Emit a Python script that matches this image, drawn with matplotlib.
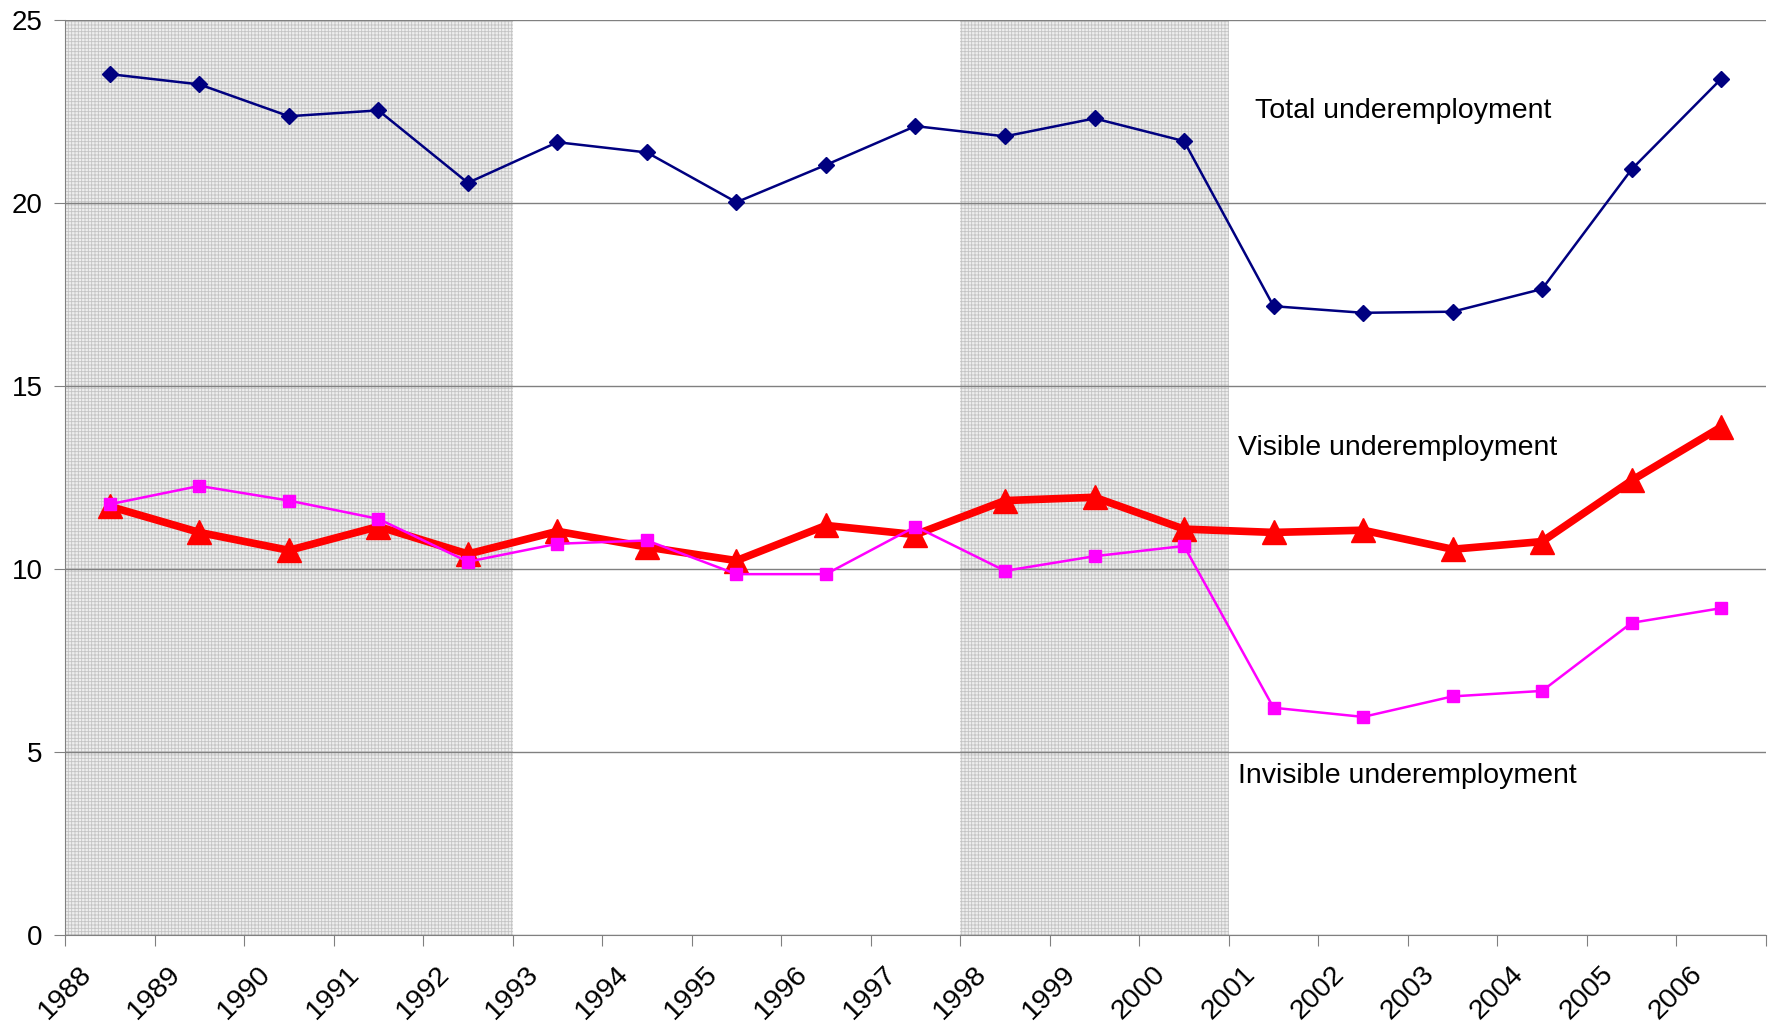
import matplotlib
matplotlib.use("Agg")
import numpy as np
from matplotlib import pyplot as plt
from matplotlib import transforms

# data
years = [1988, 1989, 1990, 1991, 1992, 1993, 1994, 1995, 1996, 1997,
         1998, 1999, 2000, 2001, 2002, 2003, 2004, 2005, 2006]
total = [23.52, 23.24, 22.37, 22.53, 20.55, 21.66, 21.38, 20.02, 21.04, 22.10,
         21.82, 22.31, 21.69, 17.18, 17.00, 17.03, 17.65, 20.92, 23.39]
visible = [11.71, 11.00, 10.51, 11.16, 10.41, 11.03, 10.60, 10.23, 11.19, 10.94,
           11.87, 11.96, 11.09, 11.00, 11.06, 10.54, 10.75, 12.42, 13.88]
invisible = [11.77, 12.27, 11.87, 11.37, 10.20, 10.69, 10.78, 9.86, 9.86, 11.16,
             9.95, 10.35, 10.63, 6.21, 5.96, 6.52, 6.67, 8.53, 8.93]
shaded = [(1988, 1993), (1998, 2001)]

plt.rcParams['font.family'] = ['Liberation Sans', 'DejaVu Sans']
plt.rcParams['hatch.linewidth'] = 0.6

fig = plt.figure(figsize=(17.73, 10.29), dpi=100)
ax = fig.add_axes([0.0367, 0.0913, 0.9593, 0.8893])

x = np.arange(len(years)) + 0.5

for a, b in shaded:
    ax.axvspan(years.index(a), years.index(b) if b in years else len(years),
               facecolor='#eeeeee', edgecolor='#c4c4c4', hatch='+++++',
               linewidth=0, zorder=1)

ax.plot(x, total, color='#000080', lw=1.8, marker='D', ms=8.5, zorder=3)
ax.plot(x, visible, color='#ff0000', lw=5.5, marker='^', ms=17, zorder=4)
ax.plot(x, invisible, color='#ff00ff', lw=1.8, marker='s', ms=9, zorder=5)

ax.text(13.29, 22.52, 'Total underemployment', fontsize=20.5, va='center')
ax.text(13.10, 13.31, 'Visible underemployment', fontsize=20.5, va='center')
ax.text(13.10, 4.35, 'Invisible underemployment', fontsize=20.5, va='center')

ax.set_xlim(0, len(years))
ax.set_ylim(0, 25)
ax.set_yticks([0, 5, 10, 15, 20, 25])
ax.set_xticks(np.arange(len(years) + 1))
ax.set_xticklabels([str(y) for y in years] + [''], rotation=45, ha='center')
shift = transforms.ScaledTranslation(6 / 100, 0, fig.dpi_scale_trans)
for lab in ax.get_xticklabels():
    lab.set_transform(lab.get_transform() + shift)
ax.tick_params(axis='x', length=8, pad=11, labelsize=20.5, color='#808080')
ax.tick_params(axis='y', length=8, pad=8, labelsize=20, color='#808080')
ax.yaxis.grid(True, color='#808080', lw=1)
for s in ['top', 'right']:
    ax.spines[s].set_visible(False)
for s in ['left', 'bottom']:
    ax.spines[s].set_color('#808080')

fig.savefig('out.png', dpi=100)
